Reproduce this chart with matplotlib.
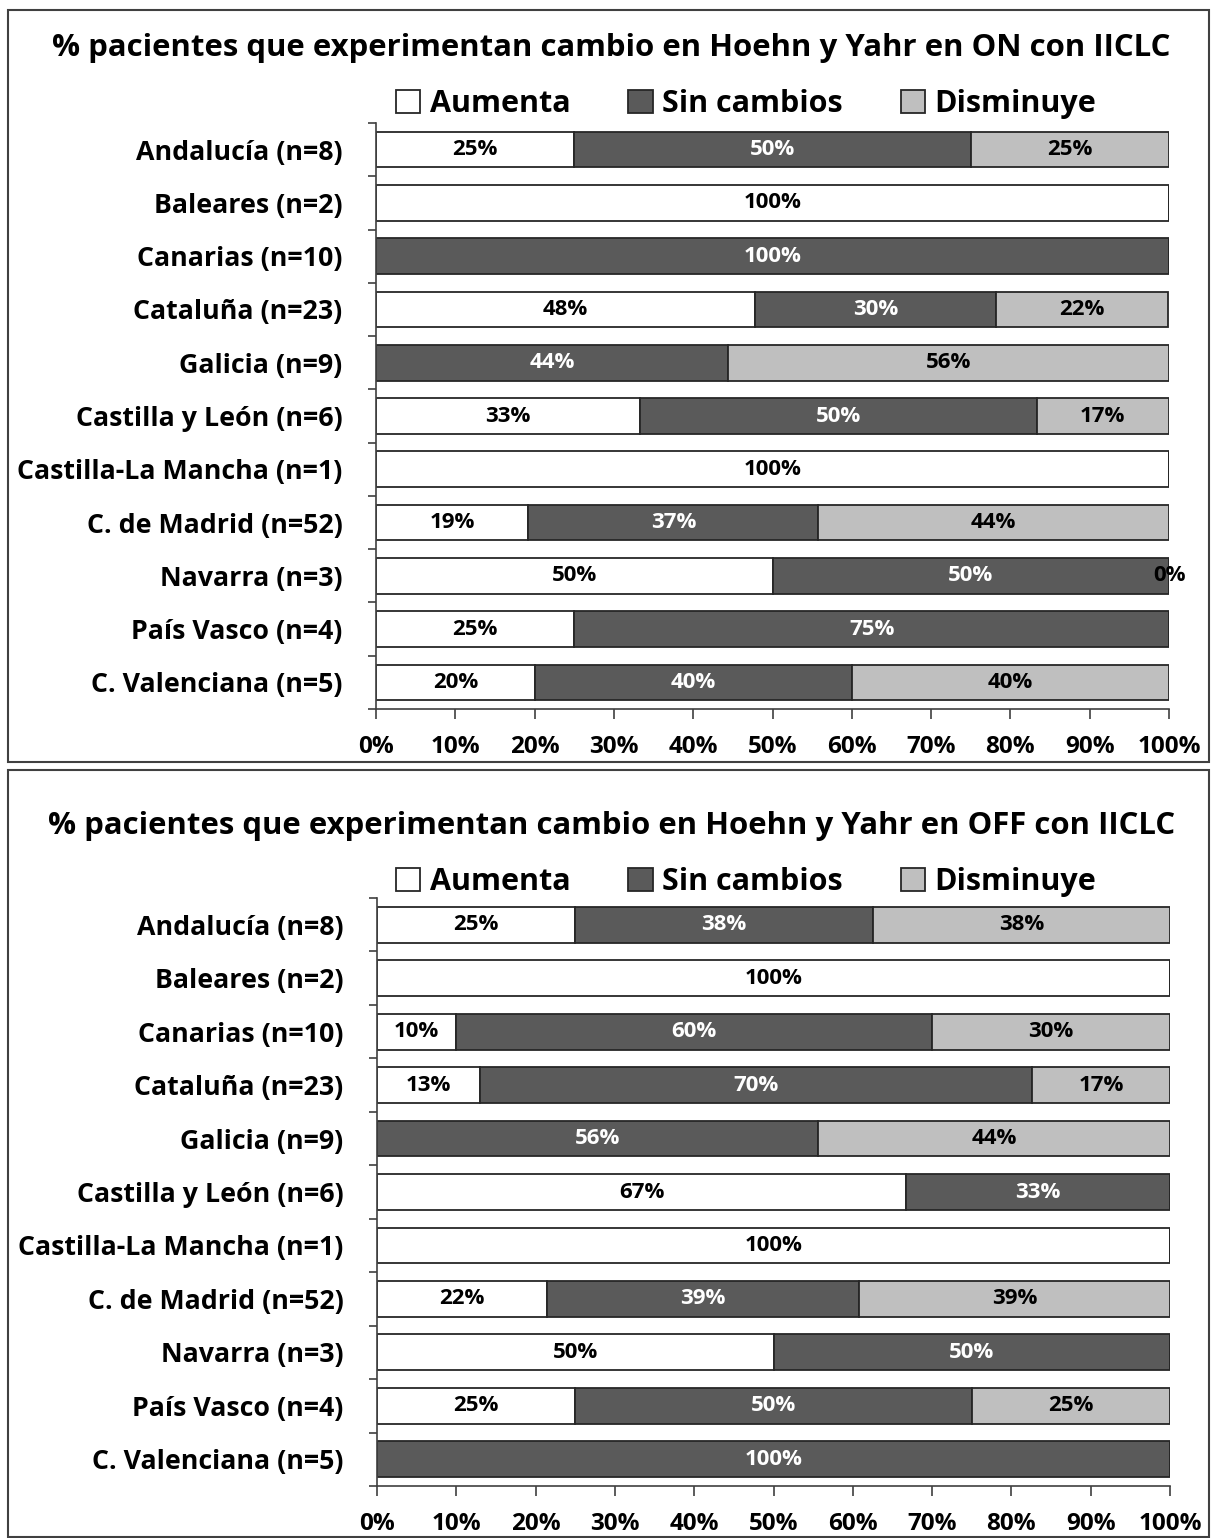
import numpy as np
import matplotlib
matplotlib.use("Agg")
import matplotlib.pyplot as plt
from matplotlib.patches import Rectangle

plt.rcParams['font.family'] = ['Open Sans', 'DejaVu Sans']
plt.rcParams['font.weight'] = 'bold'

regiones = ['Andalucía (n=8)', 'Baleares (n=2)', 'Canarias (n=10)', 'Cataluña (n=23)',
            'Galicia (n=9)', 'Castilla y León (n=6)', 'Castilla-La Mancha (n=1)',
            'C. de Madrid (n=52)', 'Navarra (n=3)', 'País Vasco (n=4)', 'C. Valenciana (n=5)']
series = ['Aumenta', 'Sin cambios', 'Disminuye']
nan = np.nan

# ON
on_aumenta = [25, 100, nan, 47.8, nan, 33.3, 100, 19.2, 50, 25, 20]
on_sin = [50, nan, 100, 30.4, 44.4, 50, nan, 36.6, 50, 75, 40]
on_dism = [25, nan, nan, 21.7, 55.6, 16.7, nan, 44.2, 0, nan, 40]

# OFF
off_aumenta = [25, 100, 10, 13.0, nan, 66.7, 100, 21.5, 50, 25, nan]
off_sin = [37.5, nan, 60, 69.6, 55.6, 33.3, nan, 39.25, 50, 50, 100]
off_dism = [37.5, nan, 30, 17.4, 44.4, nan, nan, 39.25, nan, 25, nan]

colores = ['#FFFFFF', '#5A5A5A', '#BFBFBF']
txt_col = ['black', 'white', 'black']

fig = plt.figure(figsize=(12.11, 15.38), dpi=100)

# marcos de cada grafico
for y0, h in [(1 - 762/1538, 752/1538), (0.0005, 1 - 770/1538 - 0.0005)]:
    fig.patches.append(Rectangle((8/1211, y0), 1201/1211, h, transform=fig.transFigure,
                                 fill=False, edgecolor='#404040', lw=1.5))


def dibujar(ax, datos, titulo, y_tit, y_leg):
    y = np.arange(len(regiones))
    izq = np.zeros(len(regiones))
    handles = []
    for i, vals in enumerate(datos):
        v = np.array(vals, dtype=float)
        w = np.nan_to_num(v)
        b = ax.barh(y, w, left=izq, height=0.67, color=colores[i],
                    edgecolor='#262626', lw=1.3, label=series[i])
        handles.append(b)
        for j in range(len(v)):
            if not np.isnan(v[j]):
                ax.text(izq[j] + w[j] / 2, y[j], '%.0f%%' % v[j], ha='center', va='center',
                        color=txt_col[i], fontsize=16, fontweight='bold', clip_on=False)
        izq += w
    ax.set_xlim(0, 100)
    ax.set_ylim(len(regiones) - 0.5, -0.5)
    ax.set_yticks(y)
    ax.set_yticklabels(regiones, fontsize=19.3)
    ax.set_yticks(np.arange(len(regiones) + 1) - 0.5, minor=True)
    ax.tick_params(axis='y', which='major', length=0, pad=24)
    ax.tick_params(axis='y', which='minor', length=6, width=1.2, color='#404040')
    ax.set_xticks(np.arange(0, 101, 10))
    ax.set_xticklabels(['%d%%' % t for t in range(0, 101, 10)], fontsize=17.5)
    ax.tick_params(axis='x', length=7, width=1.2, color='#404040', pad=12)
    for s in ['top', 'right']:
        ax.spines[s].set_visible(False)
    for s in ['left', 'bottom']:
        ax.spines[s].set_color('#404040')
        ax.spines[s].set_linewidth(1.2)
    fig.text(0.505, y_tit, titulo, ha='center', va='center', fontsize=22.4, fontweight='bold')
    fig.legend(handles=handles, loc='center', bbox_to_anchor=(746/1211, y_leg), ncol=3,
               frameon=False, fontsize=22, handlelength=0.8, handleheight=0.8,
               handletextpad=0.3, columnspacing=1.9)


ax1 = fig.add_axes([376/1211, 1 - 709/1538, 793/1211, 586/1538])
dibujar(ax1, [on_aumenta, on_sin, on_dism],
        '% pacientes que experimentan cambio en Hoehn y Yahr en ON con IICLC',
        1 - 48/1538, 1 - 104/1538)

ax2 = fig.add_axes([377/1211, 1 - 1486/1538, 793/1211, 588/1538])
dibujar(ax2, [off_aumenta, off_sin, off_dism],
        '% pacientes que experimentan cambio en Hoehn y Yahr en OFF con IICLC',
        1 - 826/1538, 1 - 882/1538)

fig.savefig('out.png', dpi=100)
